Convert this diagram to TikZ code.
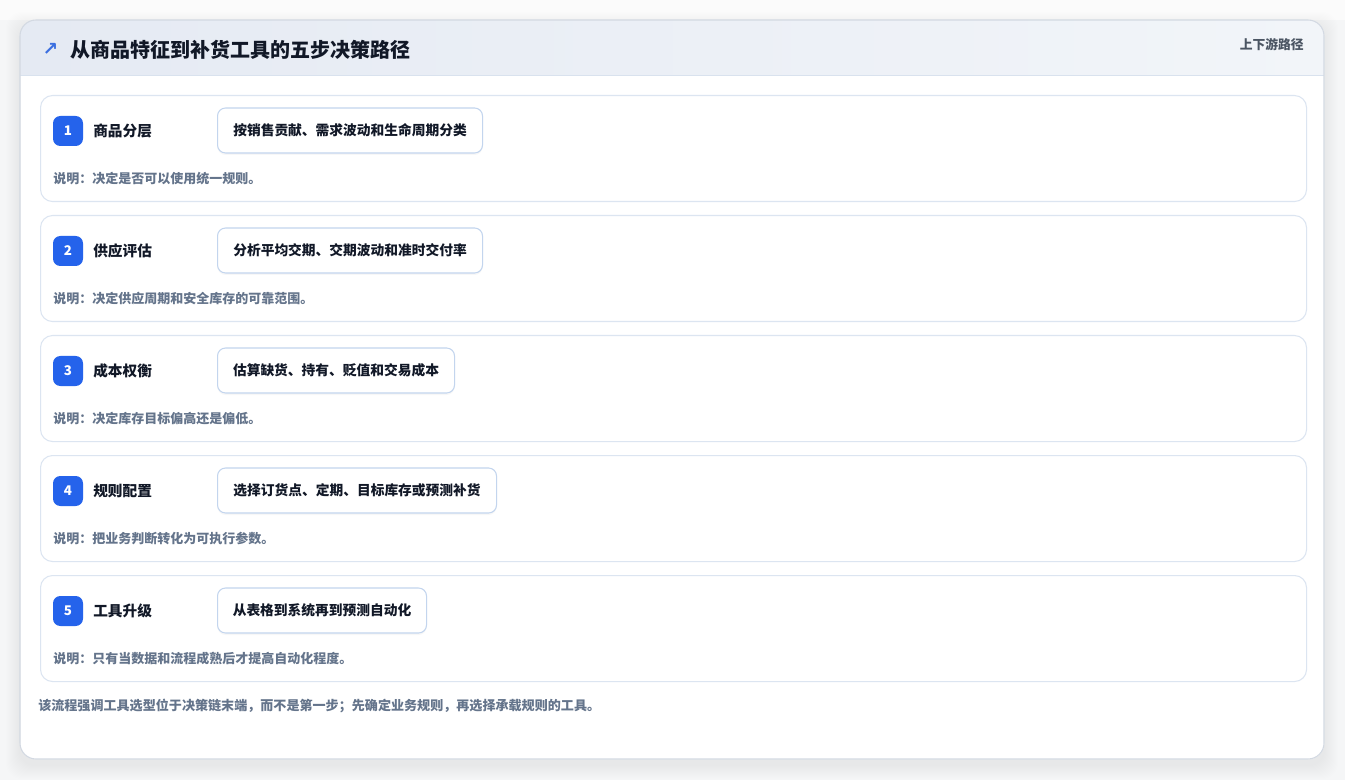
\documentclass[tikz,border=0pt]{standalone}
\usepackage{fontspec}
\setmainfont{Noto Sans CJK SC}
\newfontfamily\symfont{DejaVu Sans}
\usetikzlibrary{shadows}
\definecolor{bgc}{HTML}{F5F6F7}
\definecolor{cardborder}{HTML}{D3D9E2}
\definecolor{rowborder}{HTML}{DCE5F1}
\definecolor{pillborder}{HTML}{C3D5EE}
\definecolor{hdrL}{HTML}{E5EAF3}
\definecolor{hdrR}{HTML}{F2F5F9}
\definecolor{hdrline}{HTML}{D9E2EE}
\definecolor{badgeblue}{HTML}{2563EB}
\definecolor{iconblue}{HTML}{3B6FE0}
\definecolor{darktext}{HTML}{111827}
\definecolor{graytext}{HTML}{64748B}
\definecolor{hdrgray}{HTML}{4B5563}
\tikzset{
  rowcard/.style={draw=rowborder, line width=0.8pt, fill=white, rounded corners=9pt,
    anchor=north west, minimum width=949.5pt, minimum height=79.5pt, inner sep=0pt},
  badge/.style={fill=badgeblue, rounded corners=5.5pt, minimum width=22.5pt, minimum height=22.5pt,
    inner sep=0pt, text=white, font=\fontsize{10pt}{11pt}\selectfont\bfseries},
  steptitle/.style={anchor=west, inner sep=0pt, text=darktext, font=\fontsize{11pt}{13pt}\selectfont\bfseries},
  pill/.style={draw=pillborder, line width=0.8pt, fill=white, rounded corners=6pt, anchor=west,
    minimum height=33.75pt, inner sep=0pt, text=darktext, font=\fontsize{10.3pt}{12pt}\selectfont\bfseries,
    drop shadow={shadow xshift=0pt, shadow yshift=-1.5pt, opacity=0.06}},
  desc/.style={anchor=west, inner sep=0pt, text=graytext, font=\fontsize{9.75pt}{11pt}\selectfont\bfseries},
}
\begin{document}
\begin{tikzpicture}[x=0.75pt,y=-0.75pt]
\useasboundingbox (0,0) rectangle (1345,780);
\fill[bgc] (0,0) rectangle (1345,780);
\fill[white,opacity=0.6] (0,0) rectangle (1345,20);
% shadow of outer card
\foreach \k in {1,...,14}{
  \fill[black,opacity=0.005,rounded corners=12pt] (20-\k,20-\k+6) rectangle (1324+\k,759+\k+6);
}
% outer card
\node[fill=white, rounded corners=12pt, anchor=north west, minimum width=978pt, minimum height=554.25pt, inner sep=0pt] (card) at (20,20) {};
\begin{scope}
  \clip[rounded corners=12pt] (20,20) rectangle (1324,759);
  \shade[left color=hdrL, right color=hdrR] (20,20) rectangle (1324,75.5);
\end{scope}
\draw[hdrline, line width=0.8pt] (20,75.5) -- (1324,75.5);
\draw[cardborder, line width=0.8pt, rounded corners=12pt] (20,20) rectangle (1324,759);
% header
\node[anchor=center, inner sep=0pt, text=iconblue, font=\symfont\fontsize{14pt}{15pt}\selectfont\bfseries] (icon) at (50.5,49.5) {↗};
\node[anchor=west, inner sep=0pt, text=darktext, font=\fontsize{15pt}{17pt}\selectfont\bfseries] (title) at (70,49.5) {从商品特征到补货工具的五步决策路径};
\node[anchor=east, inner sep=0pt, text=hdrgray, font=\fontsize{9.6pt}{11pt}\selectfont\bfseries] (updown) at (1304,44.5) {上下游路径};
% rows
\foreach \i/\num/\ttl/\pl/\pw/\ds in {
  0/1/商品分层/按销售贡献、需求波动和生命周期分类/265/说明：决定是否可以使用统一规则。,
  1/2/供应评估/分析平均交期、交期波动和准时交付率/265/说明：决定供应周期和安全库存的可靠范围。,
  2/3/成本权衡/估算缺货、持有、贬值和交易成本/237/说明：决定库存目标偏高还是偏低。,
  3/4/规则配置/选择订货点、定期、目标库存或预测补货/279/说明：把业务判断转化为可执行参数。,
  4/5/工具升级/从表格到系统再到预测自动化/209/说明：只有当数据和流程成熟后才提高自动化程度。}{
  \pgfmathsetmacro{\top}{95+120*\i}
  \node[rowcard] (row\num) at (40,\top) {};
  \node[badge] (badge\num) at (68,\top+36) {\num};
  \node[steptitle] (stitle\num) at (93,\top+36) {\ttl};
  \node[pill, minimum width=\pw*0.75pt] (pill\num) at (217,\top+35.5) {\pl};
  \node[desc] (desc\num) at (53,\top+83.5) {\ds};
}
\node[anchor=west, inner sep=0pt, text=graytext, font=\fontsize{9.8pt}{11pt}\selectfont\bfseries] (footer) at (38,706) {该流程强调工具选型位于决策链末端，而不是第一步；先确定业务规则，再选择承载规则的工具。};
\end{tikzpicture}
\end{document}
